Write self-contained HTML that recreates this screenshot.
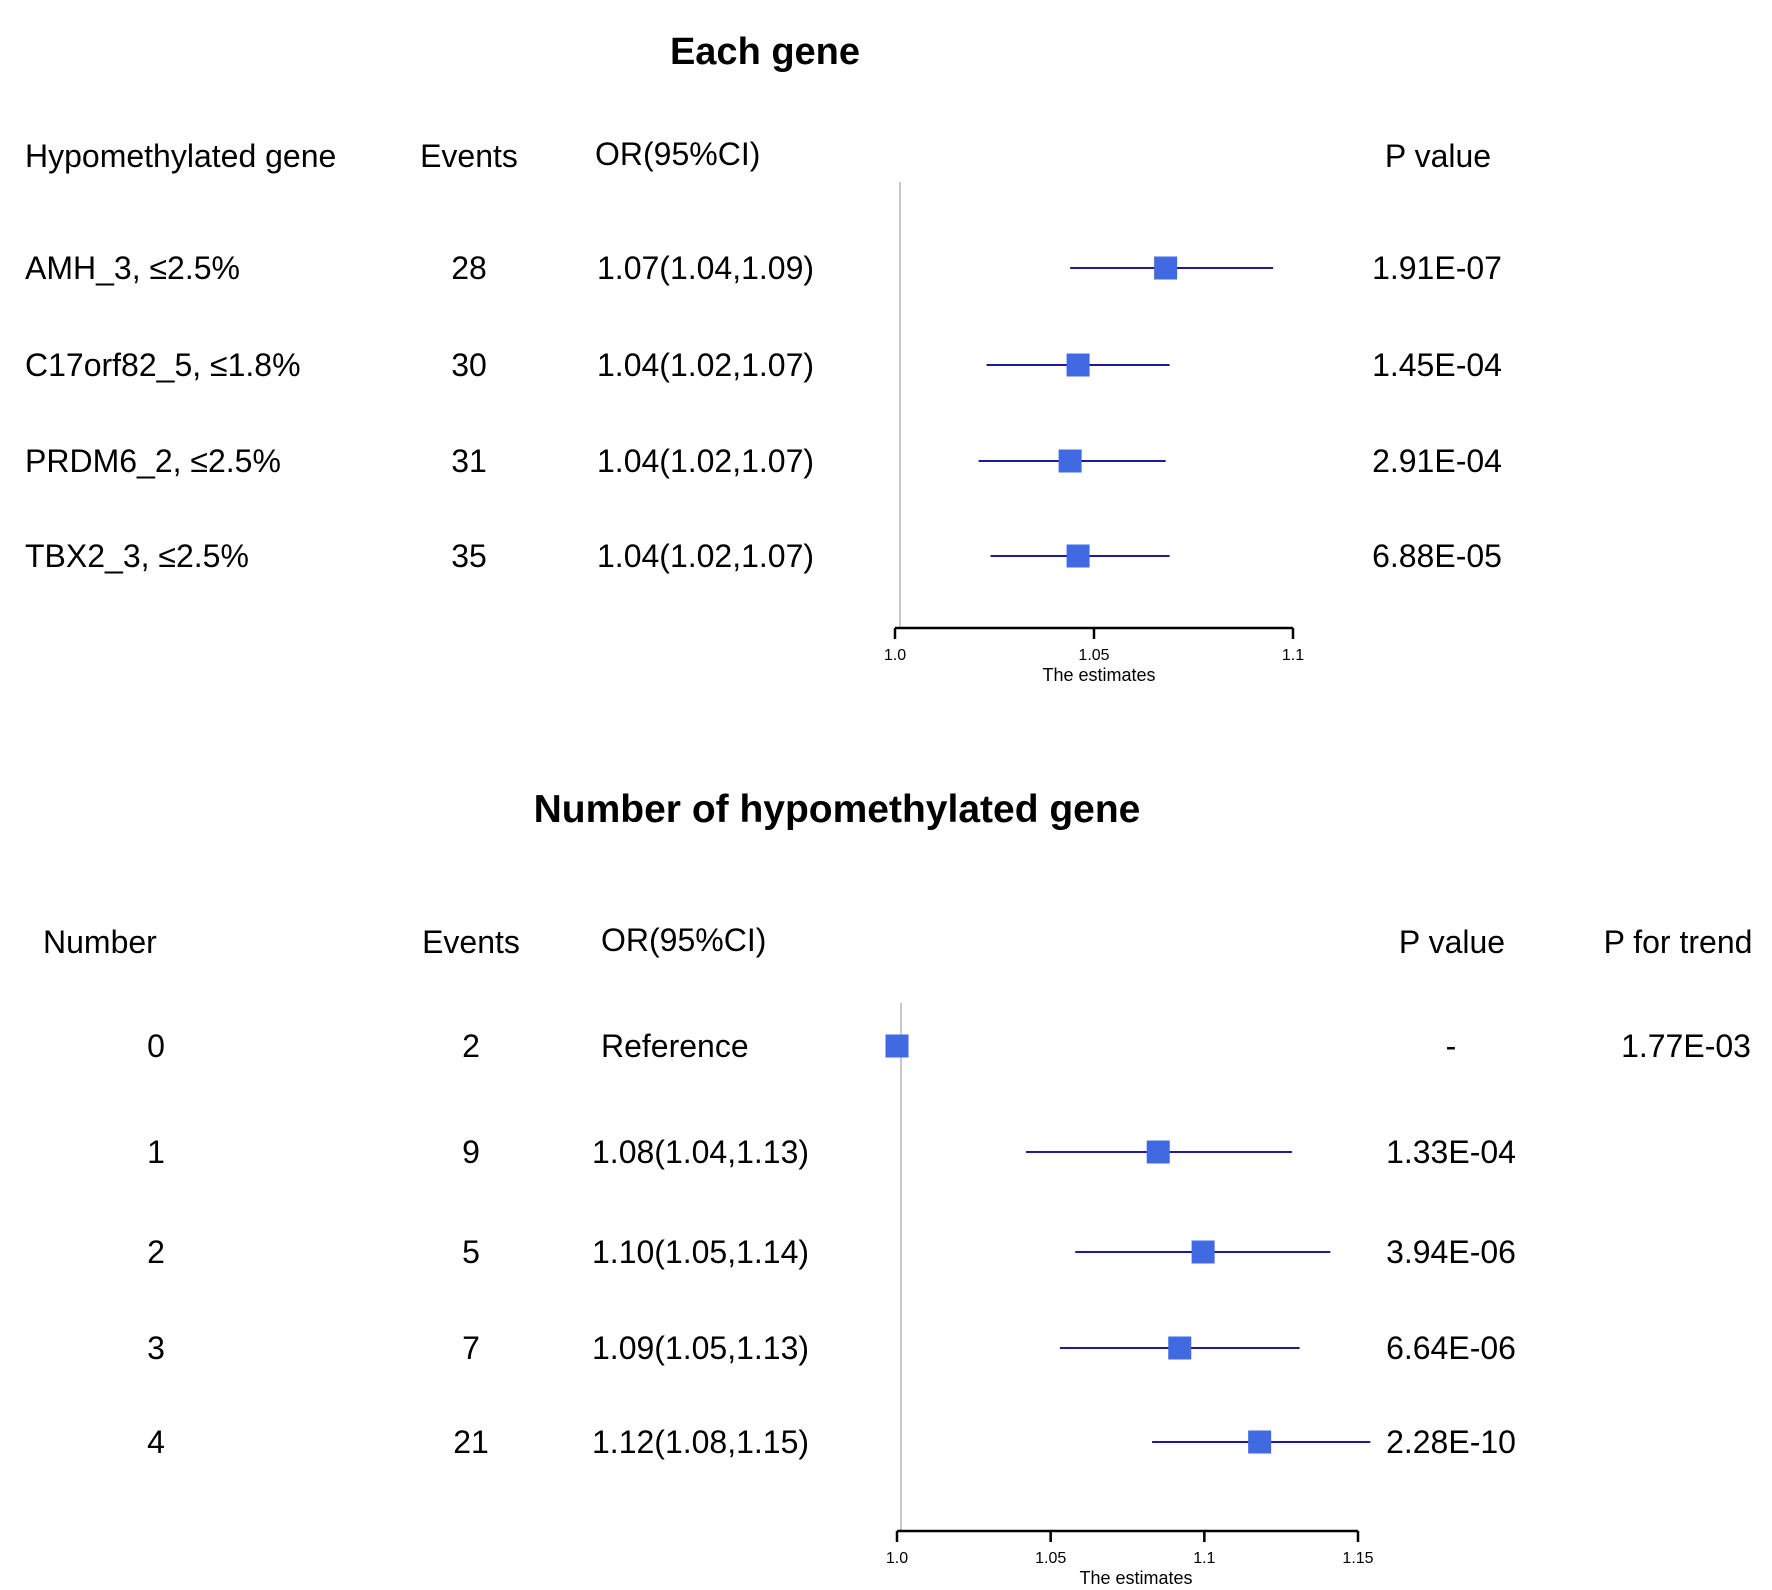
<!DOCTYPE html>
<html><head><meta charset="utf-8"><style>
html,body{margin:0;padding:0;background:#fff;}
svg{display:block;font-family:"Liberation Sans",Arial,sans-serif;}
</style></head><body>
<svg id="chart" width="1772" height="1590" viewBox="0 0 1772 1590">
<g id="top">
<text x="765" y="64" font-size="38" font-weight="bold" text-anchor="middle">Each gene</text>
<text x="25" y="167" font-size="32">Hypomethylated gene</text>
<text x="469" y="167" font-size="32" text-anchor="middle">Events</text>
<text x="595" y="165" font-size="32">OR(95%CI)</text>
<text x="1438" y="167" font-size="32" text-anchor="middle">P value</text>
<line x1="900" y1="182" x2="900" y2="627" stroke="#c8c8c8" stroke-width="2"/>
</g>
<g id="bottom">
<text x="837" y="822" font-size="39" font-weight="bold" text-anchor="middle">Number of hypomethylated gene</text>
<text x="43" y="953" font-size="32">Number</text>
<text x="471" y="953" font-size="32" text-anchor="middle">Events</text>
<text x="601" y="951" font-size="32">OR(95%CI)</text>
<text x="1452" y="953" font-size="32" text-anchor="middle">P value</text>
<text x="1678" y="953" font-size="32" text-anchor="middle">P for trend</text>
<text x="1686" y="1057" font-size="32" text-anchor="middle">1.77E-03</text>
<line x1="901" y1="1003" x2="901" y2="1531" stroke="#c8c8c8" stroke-width="2"/>
</g>
</svg>
<script>
const topLabels=["AMH_3, \u22642.5%","C17orf82_5, \u22641.8%","PRDM6_2, \u22642.5%","TBX2_3, \u22642.5%"];
const topEvents=["28","30","31","35"];
const topOR=["1.07(1.04,1.09)","1.04(1.02,1.07)","1.04(1.02,1.07)","1.04(1.02,1.07)"];
const topP=["1.91E-07","1.45E-04","2.91E-04","6.88E-05"];
const topEst=[1.068,1.046,1.044,1.046];
const topLo=[1.044,1.023,1.021,1.024];
const topHi=[1.095,1.069,1.068,1.069];
const topTicks=[1.0,1.05,1.1];
const topTickLabels=["1.0","1.05","1.1"];

const botLabels=["0","1","2","3","4"];
const botEvents=["2","9","5","7","21"];
const botOR=["Reference","1.08(1.04,1.13)","1.10(1.05,1.14)","1.09(1.05,1.13)","1.12(1.08,1.15)"];
const botP=["-","1.33E-04","3.94E-06","6.64E-06","2.28E-10"];
const botEst=[1.0,1.085,1.0996,1.092,1.118];
const botLo=[null,1.042,1.058,1.053,1.083];
const botHi=[null,1.1285,1.141,1.131,1.154];
const botTicks=[1.0,1.05,1.1,1.15];
const botTickLabels=["1.0","1.05","1.1","1.15"];

const NS="http://www.w3.org/2000/svg";
function mk(parent,tag,attrs,text){const e=document.createElementNS(NS,tag);for(const k in attrs)e.setAttribute(k,attrs[k]);if(text!==undefined)e.textContent=text;parent.appendChild(e);return e;}
const xTop=v=>895+(v-1.0)/0.1*398;
const xBot=v=>897+(v-1.0)/0.15*461;
const topRowY=[268,365,461,556];
const botRowY=[1046,1152,1252,1348,1442];

function panel(g,xs,rowsY,labels,labelX,labelAnchor,events,evX,ors,orX,ps,pX,est,lo,hi,ticks,tickLabels,axisY,titleX){
  rowsY.forEach((y,i)=>{
    let t=mk(g,'text',{x:labelX,y:y+11,'font-size':32,'text-anchor':labelAnchor},labels[i]);
    
    
    t=mk(g,'text',{x:evX,y:y+11,'font-size':32,'text-anchor':'middle'},events[i]);
    
    
    t=mk(g,'text',{x:ors[i]==="Reference"?orX+9:orX,y:y+11,'font-size':32},ors[i]);
    
    
    t=mk(g,'text',{x:pX,y:y+11,'font-size':32,'text-anchor':'middle'},ps[i]);
    
    
    if(lo[i]!==null){
      const l=mk(g,'line',{x1:xs(lo[i]),x2:xs(hi[i]),y1:y,y2:y,stroke:'#1c1c9a','stroke-width':2});
      
      
    }
    const r=mk(g,'rect',{x:xs(est[i])-11.5,y:y-11.5,width:23,height:23,fill:'#4169e1'});
    
    
  });
  const ax=mk(g,'line',{x1:xs(ticks[0]),x2:xs(ticks[ticks.length-1]),y1:axisY,y2:axisY,stroke:'#000','stroke-width':2.5});
  
  
  ticks.forEach((v,i)=>{
    const tk=mk(g,'line',{x1:xs(v),x2:xs(v),y1:axisY,y2:axisY+11,stroke:'#000','stroke-width':2.5});
    
    
    const tl=mk(g,'text',{x:xs(v),y:axisY+32,'font-size':16,'text-anchor':'middle'},tickLabels[i]);
    
    
  });
  const at=mk(g,'text',{x:titleX,y:axisY+53,'font-size':18,'text-anchor':'middle'},'The estimates');
  
  
}
panel(document.getElementById('top'),xTop,topRowY,topLabels,25,'start',topEvents,469,topOR,597,topP,1437,topEst,topLo,topHi,topTicks,topTickLabels,628,1099);
panel(document.getElementById('bottom'),xBot,botRowY,botLabels,156,'middle',botEvents,471,botOR,592,botP,1451,botEst,botLo,botHi,botTicks,botTickLabels,1531,1136);
</script>
</body></html>
